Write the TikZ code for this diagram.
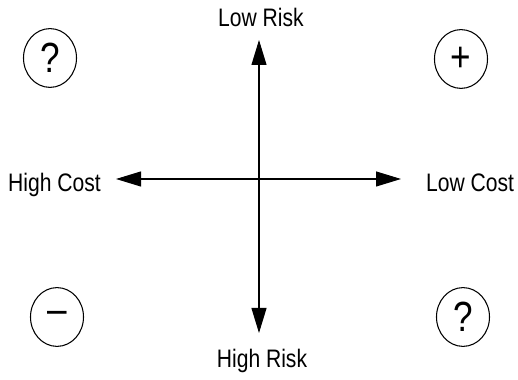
\documentclass[tikz,border=0pt]{standalone}
\usepackage{fontspec}
\setmainfont{Liberation Sans}
\usetikzlibrary{arrows.meta,shapes.geometric}

\begin{document}
\begin{tikzpicture}[every node/.style={font=\fontsize{12}{14}\selectfont}, lbl/.style={anchor=base, inner sep=0pt, yscale=1.2, transform shape}, sign/.style={ellipse, draw, line width=0.6pt, minimum width=1.06cm, minimum height=0.98cm, inner sep=0pt, yscale=1.2, transform shape, font=\fontsize{20}{20}\selectfont}, arrow/.style={{Triangle[length=5mm,width=3mm]}-{Triangle[length=5mm,width=3mm]}, line width=0.6pt}]
\useasboundingbox (0,0) rectangle (10.36,7.6);
% axis ends
\coordinate (n) at (5.18,6.80);
\coordinate (s) at (5.18,0.94);
\coordinate (w) at (2.32,4.02);
\coordinate (e) at (8.02,4.02);
\draw[arrow] (s)--(n); \draw[arrow] (w)--(e);
% axis labels
\node[lbl] (lr) at (5.22,7.06) {Low Risk};
\node[lbl] (hr) at (5.24,0.24) {High Risk};
\node[lbl] (hc) at (1.09,3.76) {High Cost};
\node[lbl] (lc) at (9.40,3.76) {Low Cost};
% quadrants
\node[sign] (q1) at (1.00,6.44) {?};
\node[sign] (q2) at (9.22,6.42) {+};
\node[sign] (q3) at (1.14,1.26) {--};
\node[sign] (q4) at (9.26,1.26) {?};
\end{tikzpicture}
\end{document}
